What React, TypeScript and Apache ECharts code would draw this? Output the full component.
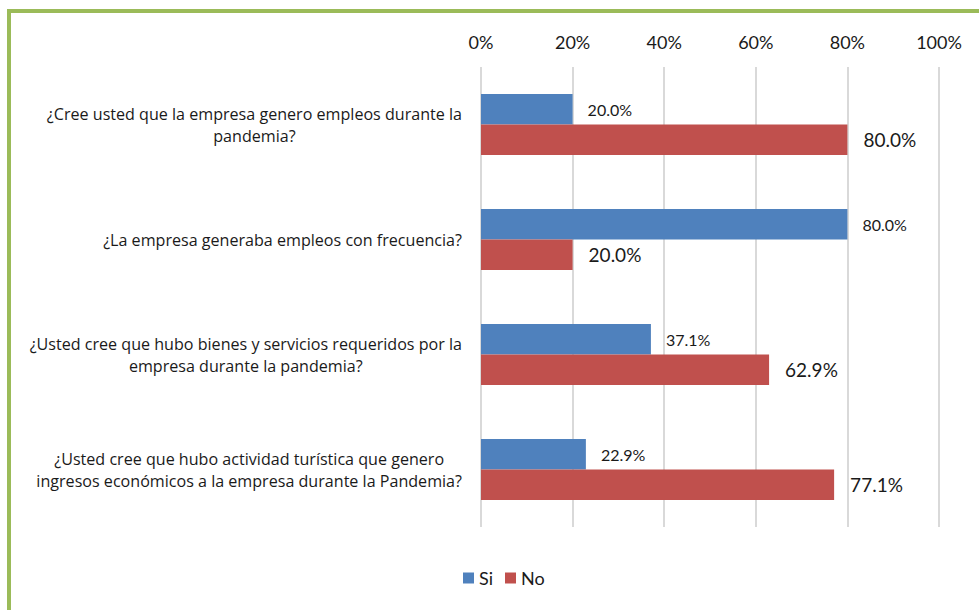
import React, { useEffect, useRef } from "react";
import * as echarts from "echarts";

const categories = [
  "¿Cree usted que la empresa genero empleos durante la\npandemia?",
  "¿La empresa generaba empleos con frecuencia?",
  "¿Usted cree que hubo bienes y servicios requeridos por la\nempresa durante la pandemia?",
  "¿Usted cree que hubo actividad turística que genero\ningresos económicos a la empresa durante la Pandemia?",
];
const siValues = [20.0, 80.0, 37.1, 22.9];
const noValues = [80.0, 20.0, 62.9, 77.1];
const seriesNames = ["Si", "No"];
const tickStep = 20;

const FONT = "Lato, 'Noto Sans', sans-serif";
const CAT_FONT = "'Open Sans', 'Noto Sans', sans-serif";

export default function App() {
  const ref = useRef<HTMLDivElement>(null);
  useEffect(() => {
    if (!ref.current) return;
    const chart = echarts.init(ref.current, undefined, { renderer: "svg" });
    chart.setOption({
      animation: false,
      backgroundColor: "#ffffff",
      textStyle: { fontFamily: FONT, color: "#1a1a1a" },
      graphic: [
        { type: "rect", shape: { x: 7, y: 9, width: 972, height: 4 }, style: { fill: "#9BBB59" }, silent: true },
        { type: "rect", shape: { x: 7, y: 9, width: 4, height: 601 }, style: { fill: "#9BBB59" }, silent: true },
      ],
      grid: { left: 481, right: 40, top: 67, bottom: 83, containLabel: false },
      legend: {
        data: seriesNames,
        bottom: 18,
        left: 458,
        itemWidth: 11,
        itemHeight: 11,
        itemGap: 12,
        icon: "rect",
        textStyle: { fontSize: 18, color: "#1a1a1a", fontFamily: FONT },
      },
      xAxis: {
        type: "value",
        position: "top",
        min: 0,
        max: 100,
        interval: tickStep,
        axisLine: { show: false },
        axisTick: { show: false },
        axisLabel: { formatter: (v: number) => v + "%", fontSize: 18, color: "#1a1a1a", margin: 16, fontFamily: FONT },
        splitLine: { show: true, lineStyle: { color: "#D9D9D9", width: 2 } },
      },
      yAxis: {
        type: "category",
        inverse: true,
        data: categories,
        axisLine: { show: false },
        axisTick: { show: false },
        axisLabel: {
          margin: 19,
          align: "right",
          fontSize: 16,
          lineHeight: 22,
          color: "#1a1a1a",
          fontFamily: CAT_FONT,
          formatter: (v: string) => v.split("\n").map((l) => "{c|" + l + "}").join("\n"),
          rich: { c: { align: "center", fontSize: 16.1, lineHeight: 22, color: "#1a1a1a", fontFamily: CAT_FONT } },
        },
      },
      series: [
        {
          name: seriesNames[0],
          type: "bar",
          data: siValues,
          barGap: "0%",
          barCategoryGap: "47%",
          itemStyle: { color: "#4F81BD" },
          label: {
            show: true,
            position: "right",
            distance: 15,
            fontSize: 16,
            color: "#1a1a1a",
            fontFamily: FONT,
            formatter: (p: any) => p.value.toFixed(1) + "%",
          },
        },
        {
          name: seriesNames[1],
          type: "bar",
          data: noValues,
          barGap: "0%",
          barCategoryGap: "47%",
          itemStyle: { color: "#C0504D" },
          label: {
            show: true,
            position: "right",
            distance: 16,
            fontSize: 19,
            color: "#1a1a1a",
            fontFamily: FONT,
            formatter: (p: any) => p.value.toFixed(1) + "%",
          },
        },
      ],
    });
    return () => chart.dispose();
  }, []);
  return <div ref={ref} style={{ position: "fixed", left: 0, top: 0, width: 979, height: 610 }} />;
}
